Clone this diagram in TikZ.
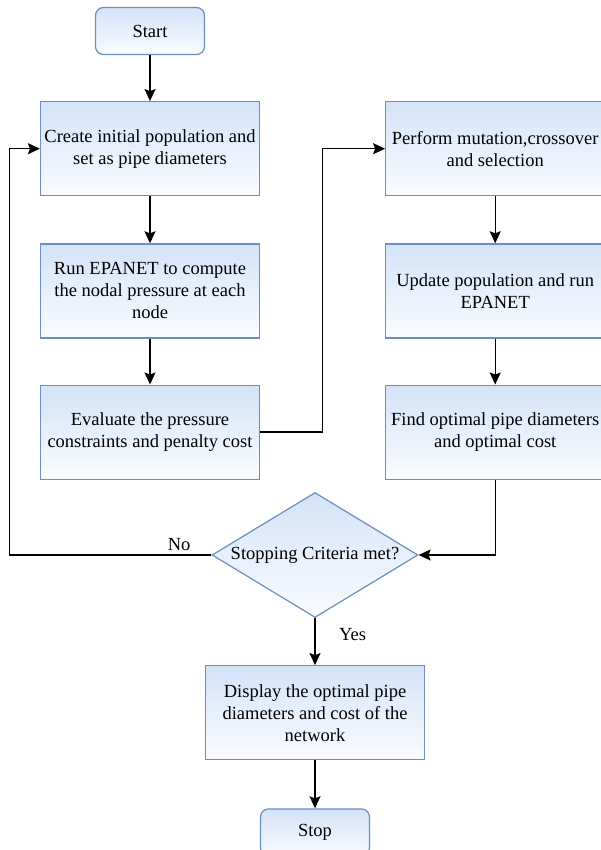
\documentclass[tikz,border=0pt]{standalone}
\usepackage{fontspec}
\setmainfont{Liberation Serif}
\newfontfamily\flowfont{Liberation Serif}
\usetikzlibrary{shapes.geometric, arrows.meta, positioning}
\definecolor{boxline}{RGB}{108,142,191}
\definecolor{boxtop}{RGB}{212,227,248}
\definecolor{boxbottom}{RGB}{250,252,255}

\tikzset{
  flowbox/.style={draw=boxline, line width=1.2pt, top color=boxtop, bottom color=boxbottom,
        minimum width=219pt, minimum height=94pt, align=center, inner sep=2pt,
        font=\flowfont\fontsize{18.5}{22}\selectfont},
  termbox/.style={flowbox, rounded corners=8pt, minimum width=109pt, minimum height=47pt},
  decision/.style={flowbox, diamond, aspect=1.65, minimum width=206pt, minimum height=125pt, inner sep=0pt},
  flow/.style={-{Stealth[length=12pt, width=11pt, inset=2pt]}, line width=1.4pt},
  note/.style={font=\flowfont\fontsize{18.5}{22}\selectfont}
}

\begin{document}
\begin{tikzpicture}[x=1pt, y=1pt]
  \useasboundingbox (0,0) rectangle (601,-850);
  % left column
  \node[termbox] (start) at (150,-31) {Start};
  \node[flowbox, below=46pt of start] (init) {Create initial population and\\set as pipe diameters};
  \node[flowbox, below=47pt of init] (epanet) {Run EPANET to compute\\the nodal pressure at each\\node};
  \node[flowbox, below=46pt of epanet] (evaluate) {Evaluate the pressure\\constraints and penalty cost};
  % right column
  \node[flowbox, right=125pt of init] (mutate) {Perform mutation,crossover\\and selection};
  \node[flowbox, below=47pt of mutate] (update) {Update population and run\\EPANET};
  \node[flowbox, below=46pt of update] (optimal) {Find optimal pipe diameters\\and optimal cost};
  % bottom
  \node[decision] (criteria) at (315,-555) {Stopping Criteria met?};
  \node[flowbox, below=47pt of criteria] (display) {Display the optimal pipe\\diameters and cost of the\\network};
  \node[termbox, below=48pt of display] (stop) {Stop};

  \draw[flow] (start) -- (init);
  \draw[flow] (init) -- (epanet);
  \draw[flow] (epanet) -- (evaluate);
  \draw[flow] (evaluate.east) -- ++(62.5,0) |- (mutate.west);
  \draw[flow] (mutate) -- (update);
  \draw[flow] (update) -- (optimal);
  \draw[flow] (optimal.south) |- (criteria.east);
  \draw[flow] (criteria.west) -- node[note, above, pos=0.16] {No} ++(-202,0) |- (init.west);
  \draw[flow] (criteria) -- node[note, right, pos=0.34, xshift=20pt] {Yes} (display);
  \draw[flow] (display) -- (stop);
\end{tikzpicture}
\end{document}
